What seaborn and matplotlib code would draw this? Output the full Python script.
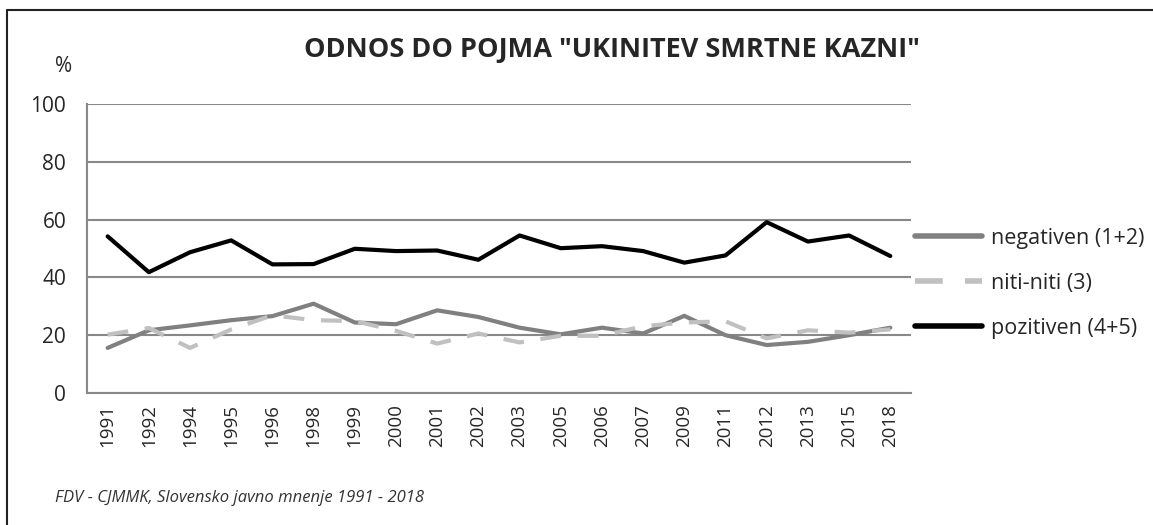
import pandas as pd
import matplotlib.pyplot as plt
import seaborn as sns

# Data
years = ["1991", "1992", "1994", "1995", "1996", "1998", "1999", "2000", "2001", "2002",
         "2003", "2005", "2006", "2007", "2009", "2011", "2012", "2013", "2015", "2018"]
negativen = [15.6, 21.7, 23.4, 25.2, 26.6, 30.9, 24.4, 23.8, 28.6, 26.3,
             22.6, 20.3, 22.6, 20.6, 26.7, 20.0, 16.6, 17.7, 20.0, 22.6]
niti_niti = [20.2, 22.5, 15.6, 22.0, 26.9, 25.2, 24.9, 21.5, 17.1, 20.6,
             17.5, 19.8, 19.8, 23.1, 24.4, 24.8, 18.9, 21.7, 20.9, 22.0]
pozitiven = [54.2, 41.8, 48.7, 52.8, 44.5, 44.6, 49.9, 49.1, 49.3, 46.1,
             54.5, 50.1, 50.8, 49.1, 45.1, 47.6, 59.1, 52.4, 54.5, 47.4]
series_names = ["negativen (1+2)", "niti-niti (3)", "pozitiven (4+5)"]

df = pd.DataFrame({"leto": years, series_names[0]: negativen,
                   series_names[1]: niti_niti, series_names[2]: pozitiven})
long_df = df.melt(id_vars="leto", var_name="odnos", value_name="odstotek")

sns.set_style("white")
plt.rcParams["font.family"] = ["Open Sans", "DejaVu Sans"]

grid_col = "#888888"
palette = {series_names[0]: "#808080", series_names[1]: "#c0c0c0", series_names[2]: "#000000"}
dashes = {series_names[0]: "", series_names[1]: (5, 4), series_names[2]: ""}

fig = plt.figure(figsize=(11.53, 5.25), dpi=100)
ax = fig.add_axes([0.0755, 0.2514, 0.7145, 0.5506])

sns.lineplot(data=long_df, x="leto", y="odstotek", hue="odnos", style="odnos",
             palette=palette, dashes=dashes, linewidth=3, ax=ax, sort=False)

ax.set_xlim(-0.5, len(years) - 0.5)
ax.set_ylim(0, 100)
ax.set_yticks(range(0, 101, 20))
ax.set_xticks(range(len(years)))
ax.set_xticklabels(years, rotation=90, fontsize=13.5)
ax.set_xticks([i - 0.5 for i in range(len(years) + 1)], minor=True)
ax.tick_params(axis="x", which="major", length=0, pad=8)
ax.tick_params(axis="x", which="minor", length=8, width=1.5, color=grid_col, direction="out")
ax.tick_params(axis="y", length=9, width=1.5, color=grid_col, direction="out", labelsize=15, pad=6)
ax.yaxis.grid(True, color=grid_col, linewidth=1.5)
ax.set_axisbelow(True)
ax.set_xlabel("")
ax.set_ylabel("")

for side in ["top", "right"]:
    ax.spines[side].set_visible(False)
for side in ["left", "bottom"]:
    ax.spines[side].set_color(grid_col)
    ax.spines[side].set_linewidth(1.5)

leg = ax.legend(loc="center left", bbox_to_anchor=(1.0, 0.38), frameon=False,
                fontsize=15.5, handlelength=3.1, handletextpad=0.42, labelspacing=1.12,
                borderaxespad=0, borderpad=0.2)
for line in leg.get_lines():
    line.set_linewidth(4)

fig.text(0.531, 0.905, 'ODNOS DO POJMA "UKINITEV SMRTNE KAZNI"', ha="center", va="center",
         fontsize=19.5, fontweight="bold")
fig.text(0.055, 0.874, "%", ha="center", va="center", fontsize=15)
fig.text(0.048, 0.051, "FDV - CJMMK, Slovensko javno mnenje 1991 - 2018", ha="left",
         va="center", fontsize=12, style="italic", color="#333333")

# frame lines top and left
fig.add_artist(plt.Line2D([0.006, 1.0], [0.981, 0.981], color="#222222", linewidth=1.5))
fig.add_artist(plt.Line2D([0.006, 0.006], [0.0, 0.981], color="#222222", linewidth=1.5))

plt.savefig("out.png", dpi=100)
